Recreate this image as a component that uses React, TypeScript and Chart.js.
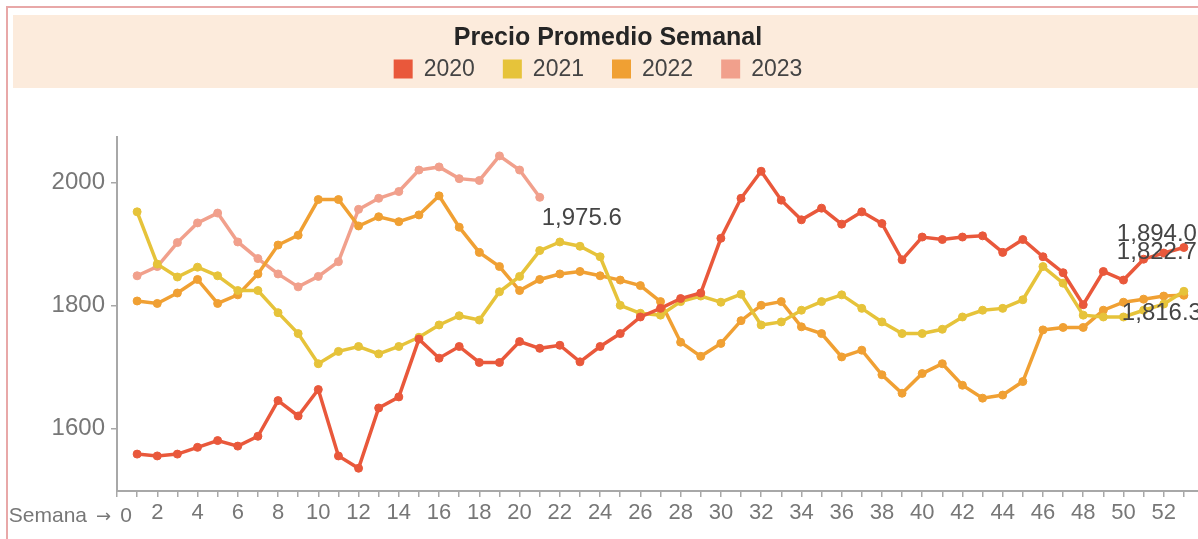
import React, { useEffect, useRef } from "react";
import { Chart, registerables } from "chart.js";

Chart.register(...registerables);

const chartTitle = "Precio Promedio Semanal";
const axisCaption = "Semana";
const axisArrow = "→";

const seriesNames = ["2020", "2021", "2022", "2023"];
const seriesColors = ["#E9583B", "#E6C33A", "#F0A033", "#F1A08C"];

const weeks = [
  1, 2, 3, 4, 5, 6, 7, 8, 9, 10, 11, 12, 13, 14, 15, 16, 17, 18, 19, 20, 21, 22, 23, 24, 25, 26,
  27, 28, 29, 30, 31, 32, 33, 34, 35, 36, 37, 38, 39, 40, 41, 42, 43, 44, 45, 46, 47, 48, 49, 50,
  51, 52, 53,
];

const values2020 = [
  1558, 1555, 1558, 1569, 1580, 1571, 1587, 1645, 1620, 1663,
  1555, 1535, 1633, 1651, 1745, 1714, 1733, 1707, 1707, 1741,
  1730, 1735, 1708, 1733, 1754, 1781, 1795, 1811, 1820, 1909,
  1974, 2018, 1971, 1939, 1958, 1932, 1952, 1933, 1874, 1911,
  1907, 1911, 1913, 1886, 1907, 1879, 1853, 1801, 1855, 1841,
  1875, 1885, 1894.0,
];

const values2021 = [
  1952, 1867, 1846, 1862, 1848, 1824, 1824, 1788, 1754, 1705,
  1725, 1733, 1721, 1733, 1748, 1768, 1783, 1776, 1822, 1847,
  1889, 1903, 1896, 1879, 1800, 1787, 1784, 1806, 1815, 1805,
  1818, 1768, 1773, 1792, 1806, 1817, 1795, 1773, 1754, 1754,
  1761, 1781, 1792, 1795, 1809, 1863, 1836, 1784, 1781, 1781,
  1792, 1802, 1822.7,
];

const values2022 = [
  1807, 1803, 1820, 1842, 1803, 1817, 1851, 1898, 1914, 1972,
  1972, 1929, 1944, 1936, 1947, 1978, 1927, 1886, 1863, 1824,
  1842, 1851, 1855, 1848, 1841, 1832, 1806, 1740, 1717, 1738,
  1775, 1800, 1806, 1765, 1754, 1716, 1727, 1687, 1657, 1689,
  1705, 1670, 1649, 1654, 1676, 1760, 1764, 1764, 1792, 1805,
  1810, 1815, 1816.3,
];

const values2023 = [
  1848, 1863, 1902, 1934, 1950, 1903, 1876, 1851, 1830, 1847,
  1871, 1956, 1974, 1985, 2020, 2025, 2006, 2003, 2043, 2020,
  1975.6,
];

const seriesValues = [values2020, values2021, values2022, values2023];

const yTickValues = [1600, 1800, 2000];
const xTickValues = [
  0, 1, 2, 3, 4, 5, 6, 7, 8, 9, 10, 11, 12, 13, 14, 15, 16, 17, 18, 19, 20, 21, 22, 23, 24, 25, 26,
  27, 28, 29, 30, 31, 32, 33, 34, 35, 36, 37, 38, 39, 40, 41, 42, 43, 44, 45, 46, 47, 48, 49, 50,
  51, 52, 53,
];

const FONT = '"Liberation Sans", Arial, sans-serif';

const endLabelOffsets = [
  [-67, -13],
  [-67, -39],
  [-62, 18],
  [2, 21],
];

const fmt = (v: number) =>
  v.toLocaleString("en-US", { minimumFractionDigits: 1, maximumFractionDigits: 1 });

const headerPlugin = {
  id: "headerPlugin",
  beforeDraw(chart: any) {
    const ctx = chart.ctx;
    ctx.save();
    ctx.fillStyle = "#ffffff";
    ctx.fillRect(0, 0, chart.width, chart.height);
    ctx.fillStyle = "#FCEBDC";
    ctx.fillRect(13, 15, chart.width, 73);
    ctx.strokeStyle = "#E8A8A8";
    ctx.lineWidth = 2;
    ctx.beginPath();
    ctx.moveTo(7, chart.height);
    ctx.lineTo(7, 7);
    ctx.lineTo(chart.width, 7);
    ctx.stroke();

    ctx.fillStyle = "#252525";
    ctx.font = `bold 25px ${FONT}`;
    ctx.textAlign = "center";
    ctx.textBaseline = "middle";
    ctx.fillText(chartTitle, 608, 38);

    ctx.font = `23px ${FONT}`;
    const box = 19;
    const gapText = 11;
    const gapItem = 28;
    const widths = chart.data.datasets.map(
      (ds: any) => box + gapText + ctx.measureText(ds.label).width
    );
    const total = widths.reduce((a: number, b: number) => a + b, 0) + gapItem * (widths.length - 1);
    let x = 598 - total / 2;
    const cy = 69;
    chart.data.datasets.forEach((ds: any, i: number) => {
      ctx.fillStyle = ds.borderColor;
      ctx.fillRect(x, cy - box / 2, box, box);
      ctx.fillStyle = "#444444";
      ctx.textAlign = "left";
      ctx.fillText(ds.label, x + box + gapText, cy + 1);
      x += widths[i] + gapItem;
    });
    ctx.restore();
  },
  afterDatasetsDraw(chart: any) {
    const ctx = chart.ctx;
    ctx.save();
    ctx.font = `24px ${FONT}`;
    ctx.fillStyle = "#454545";
    ctx.textAlign = "left";
    ctx.textBaseline = "middle";
    chart.data.datasets.forEach((ds: any, i: number) => {
      const meta = chart.getDatasetMeta(i);
      const last = meta.data[meta.data.length - 1];
      const lastVal = ds.data[ds.data.length - 1].y;
      const [dx, dy] = endLabelOffsets[i];
      ctx.fillText(fmt(lastVal), last.x + dx, last.y + dy);
    });
    ctx.restore();
  },
  afterDraw(chart: any) {
    const ctx = chart.ctx;
    const xs = chart.scales.x;
    const x0 = xs.getPixelForValue(0);
    ctx.save();
    ctx.fillStyle = "#777777";
    ctx.textAlign = "right";
    ctx.textBaseline = "middle";
    ctx.font = `21px ${FONT}`;
    ctx.fillText("0", x0 + 15, 516);
    ctx.fillText(axisCaption, x0 - 30, 516);
    ctx.font = `18px "DejaVu Sans", sans-serif`;
    ctx.fillText(axisArrow, x0 - 6, 517);
    ctx.restore();
  },
};

export default function App() {
  const canvasRef = useRef<HTMLCanvasElement | null>(null);

  useEffect(() => {
    const canvas = canvasRef.current;
    if (!canvas) return;
    const datasets = seriesNames.map((name, i) => ({
      label: name,
      data: seriesValues[i].map((v, j) => ({ x: weeks[j], y: v })),
      borderColor: seriesColors[i],
      backgroundColor: seriesColors[i],
      pointBackgroundColor: seriesColors[i],
      pointBorderColor: seriesColors[i],
      borderWidth: 3.5,
      pointRadius: 4,
      pointBorderWidth: 1,
      tension: 0,
    }));

    const chart = new Chart(canvas, {
      type: "line",
      data: { datasets },
      plugins: [headerPlugin],
      options: {
        animation: false,
        responsive: false,
        devicePixelRatio: 1,
        layout: { padding: { top: 137, left: 0, right: 26, bottom: 0 } },
        plugins: {
          legend: { display: false },
          title: { display: false },
          tooltip: { enabled: false },
        },
        scales: {
          x: {
            type: "linear",
            min: 0,
            max: 54,
            afterBuildTicks: (s: any) => {
              s.ticks = xTickValues.map((v) => ({ value: v }));
            },
            afterFit: (s: any) => {
              s.height = 48;
            },
            ticks: {
              autoSkip: false,
              maxRotation: 0,
              padding: 3,
              color: "#777777",
              font: { family: FONT, size: 22 },
              callback: (v: any) => (Number(v) % 2 === 0 && Number(v) !== 0 ? String(v) : ""),
            },
            grid: {
              display: true,
              drawOnChartArea: false,
              drawTicks: true,
              tickLength: 6,
              color: "#A8A8A8",
              lineWidth: 1.5,
            },
            border: { display: true, color: "#A8A8A8", width: 2 },
          },
          y: {
            type: "linear",
            min: 1498,
            max: 2073.7,
            afterBuildTicks: (s: any) => {
              s.ticks = yTickValues.map((v) => ({ value: v }));
            },
            afterFit: (s: any) => {
              s.width = 117;
            },
            ticks: {
              padding: 6,
              color: "#777777",
              font: { family: FONT, size: 24 },
              callback: (v: any) => String(v),
            },
            grid: {
              display: true,
              drawOnChartArea: false,
              drawTicks: true,
              tickLength: 6,
              color: "#A8A8A8",
              lineWidth: 1.5,
            },
            border: { display: true, color: "#A8A8A8", width: 2 },
          },
        },
      },
    });
    return () => chart.destroy();
  }, []);

  return (
    <div
      style={{
        position: "absolute",
        left: 0,
        top: 0,
        width: 1198,
        height: 539,
        overflow: "hidden",
        background: "#ffffff",
      }}
    >
      <canvas ref={canvasRef} width={1230} height={539} style={{ display: "block" }} />
    </div>
  );
}
